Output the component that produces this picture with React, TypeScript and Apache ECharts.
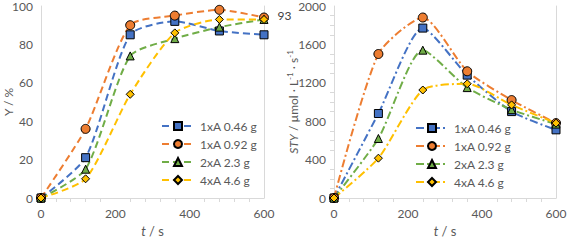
import React, { useEffect, useRef } from "react";
import * as echarts from "echarts";

const times = [0, 120, 240, 360, 480, 600];
const seriesNames = ["1xA 0.46 g", "1xA 0.92 g", "2xA 2.3 g", "4xA 4.6 g"];
const yieldBlue = [0, 21, 85, 92, 87, 85];
const yieldOrange = [0, 36, 90, 95, 98, 94];
const yieldGreen = [0, 15, 74, 83, 89, 93];
const yieldYellow = [0, 10, 54, 86, 93, 93];
const styBlue = [0, 880, 1770, 1280, 900, 710];
const styOrange = [0, 1500, 1880, 1320, 1020, 780];
const styGreen = [0, 620, 1540, 1150, 920, 770];
const styYellow = [0, 415, 1125, 1190, 970, 780];
const endLabelIndex = 5;

const colors = ["#4472C4", "#ED7D31", "#70AD47", "#FFC000"];
const symbols = ["rect", "circle", "triangle", "diamond"];
const symbolSizes = [8, 9, 8, 8];
const FONT = "Lato, 'Noto Sans', sans-serif";
const TXT = "#595959";
const AX = "#D9D9D9";

function buildSeries(data: number[][], dash: number[], labelSeries: number) {
  return data.map((vals, i) => ({
    name: seriesNames[i],
    type: "line",
    smooth: 0.22,
    data: vals.map((v, j) => {
      const item: any = { value: [times[j], v] };
      if (i === labelSeries && j === endLabelIndex) {
        item.label = {
          show: true,
          position: "right",
          distance: 9,
          formatter: String(v),
          color: "#404040",
          fontSize: 12,
          fontFamily: FONT,
          offset: [0, -4],
        };
      }
      return item;
    }),
    symbol: symbols[i],
    symbolSize: symbolSizes[i],
    showAllSymbol: true,
    lineStyle: { color: colors[i], width: 2, type: dash },
    itemStyle: { color: colors[i], borderColor: "#000", borderWidth: 1 },
  }));
}

function xAxis() {
  return {
    type: "value",
    min: 0,
    max: 600,
    interval: 200,
    name: "{i|t} / s",
    nameLocation: "middle",
    nameGap: 26,
    nameMoveOverlap: false,
    nameTextStyle: {
      color: TXT,
      fontSize: 13,
      fontFamily: FONT,
      rich: { i: { fontStyle: "italic", fontSize: 13, fontFamily: FONT, color: TXT } },
    },
    axisLine: { show: true, lineStyle: { color: AX, width: 1 } },
    axisTick: { show: false },
    minorTick: { show: true, splitNumber: 5, length: 4, lineStyle: { color: AX } },
    axisLabel: { color: TXT, fontSize: 12, fontFamily: FONT, margin: 9 },
    splitLine: { show: false },
  };
}

function yAxes(max: number, interval: number, name: string, nameGap: number, rich: any, minor: boolean) {
  return [
    {
      type: "value",
      min: 0,
      max,
      interval,
      name,
      nameLocation: "middle",
      nameGap,
      nameRotate: 90,
      nameMoveOverlap: false,
      nameTextStyle: { color: TXT, fontSize: 12, fontFamily: FONT, rich },
      axisLine: { show: true, lineStyle: { color: AX, width: 1 } },
      axisTick: { show: false },
      minorTick: { show: minor, splitNumber: 4, length: 4, lineStyle: { color: AX } },
      axisLabel: {
        color: TXT,
        fontSize: 12,
        fontFamily: FONT,
        margin: 8,
        formatter: (v: number) => String(v),
      },
      splitLine: { show: false },
    },
    {
      type: "value",
      position: "right",
      min: 0,
      max,
      interval,
      axisLine: { show: true, lineStyle: { color: AX, width: 1 } },
      axisTick: { show: false },
      axisLabel: { show: false },
      splitLine: { show: false },
    },
  ];
}

function legend(left: number, top: number) {
  return {
    orient: "vertical",
    left,
    top,
    itemWidth: 32,
    itemHeight: 10,
    itemGap: 6,
    textStyle: { color: TXT, fontSize: 12, fontFamily: FONT, padding: [0, 0, 0, 1] },
    data: seriesNames,
  };
}

const Chart: React.FC<{ option: any; width: number; left: number }> = ({ option, width, left }) => {
  const ref = useRef<HTMLDivElement>(null);
  useEffect(() => {
    if (!ref.current) return;
    const chart = echarts.init(ref.current, undefined, { renderer: "svg" });
    chart.setOption(option);
    return () => chart.dispose();
  }, []);
  return <div ref={ref} style={{ position: "absolute", left, top: 0, width, height: 240 }} />;
};

export default function App() {
  const leftOption = {
    animation: false,
    textStyle: { fontFamily: FONT },
    grid: { left: 41, right: 36, top: 6, bottom: 42, outerBoundsMode: "none", containLabel: false },
    legend: legend(156, 115),
    xAxis: xAxis(),
    yAxis: yAxes(100, 20, "Y / %", 27, {}, false),
    series: buildSeries([yieldBlue, yieldOrange, yieldGreen, yieldYellow], [7, 4], 3),
  };
  const rightOption = {
    animation: false,
    textStyle: { fontFamily: FONT },
    grid: { left: 51, right: 11, top: 6, bottom: 42, outerBoundsMode: "none", containLabel: false },
    legend: legend(127, 117),
    xAxis: xAxis(),
    yAxis: yAxes(
      2000,
      400,
      "{i|STY} / µmol · L{sup|-1} · s{sup|-1}",
      34,
      {
        i: { fontStyle: "italic", fontSize: 12, fontFamily: FONT, color: TXT },
        sup: { fontSize: 8, fontFamily: FONT, color: TXT, verticalAlign: "top", lineHeight: 14 },
      },
      true
    ),
    series: buildSeries([styBlue, styOrange, styGreen, styYellow], [8, 3, 2, 3], -1),
  };
  return (
    <div style={{ position: "fixed", left: 0, top: 0, width: 567, height: 240, background: "#fff" }}>
      <Chart option={leftOption} width={300} left={0} />
      <Chart option={rightOption} width={284} left={283} />
    </div>
  );
}
